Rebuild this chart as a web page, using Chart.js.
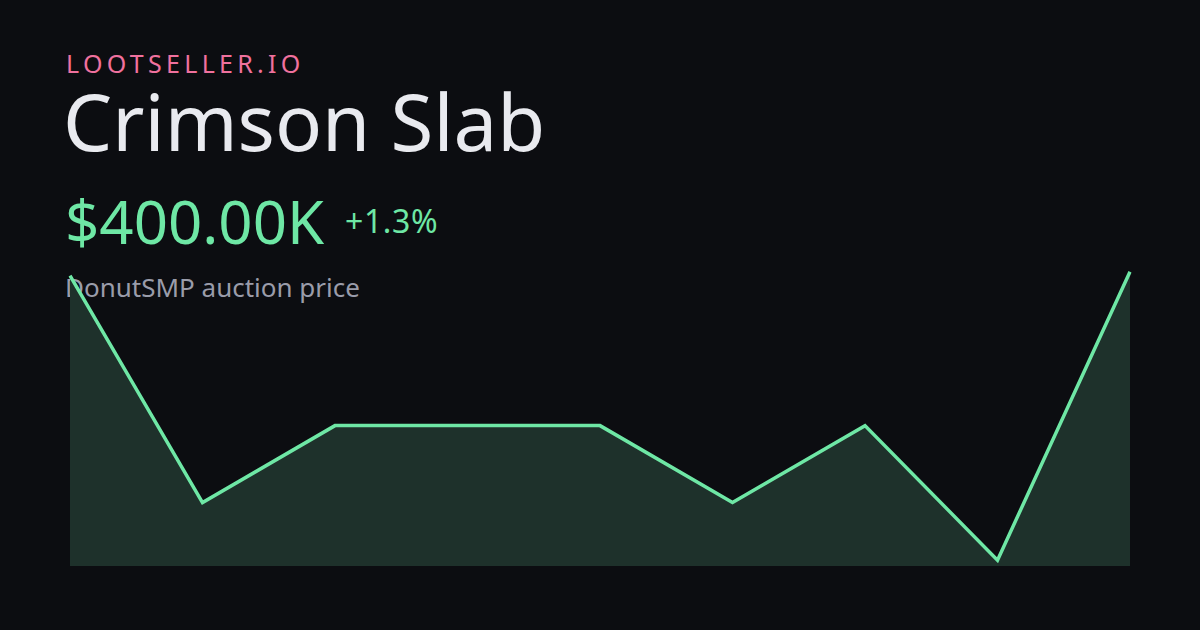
<!DOCTYPE html>
<html lang="en">
<head>
<meta charset="UTF-8">
<title>Crimson Slab - LootSeller</title>
<script src="https://cdn.jsdelivr.net/npm/chart.js"></script>
<style>
  html, body {
    margin: 0;
    padding: 0;
    width: 1200px;
    height: 630px;
    background: #0c0d11;
    overflow: hidden;
    font-family: "Noto Sans", "Open Sans", sans-serif;
  }
  .header {
    position: absolute;
    left: 66px;
    top: 0;
  }
  .brand {
    position: absolute;
    top: 46px;
    left: 0;
    font-size: 25px;
    letter-spacing: 4.3px;
    color: #f0719e;
    white-space: nowrap;
  }
  .title {
    position: absolute;
    top: 68px;
    left: -3px;
    font-size: 78px;
    color: #e9eaef;
    white-space: nowrap;
  }
  .price {
    position: absolute;
    top: 180px;
    left: -1px;
    font-size: 60px;
    color: #6ee7a5;
    white-space: nowrap;
  }
  .change {
    position: absolute;
    top: 199px;
    left: 279px;
    font-size: 32px;
    letter-spacing: 0.6px;
    color: #6ee7a5;
    white-space: nowrap;
  }
  .sub {
    position: absolute;
    top: 269px;
    left: -1px;
    font-size: 26px;
    color: #9a9caa;
    white-space: nowrap;
  }
  #wrap {
    position: absolute;
    left: 0;
    top: 0;
    width: 1200px;
    height: 630px;
  }
</style>
</head>
<body>
  <div class="header">
    <div class="brand">LOOTSELLER.IO</div>
    <div class="title">Crimson Slab</div>
    <div class="price">$400.00K</div>
    <div class="change">+1.3%</div>
    <div class="sub">DonutSMP auction price</div>
  </div>

  <div id="wrap"><canvas id="priceChart"></canvas></div>

  <script>
    // precios en miles de dólares
    const labels = ['1', '2', '3', '4', '5', '6', '7', '8', '9'];
    const prices = [395, 100, 200, 200, 200, 100, 200, 25, 400];

    const ctx = document.getElementById('priceChart').getContext('2d');
    new Chart(ctx, {
      type: 'line',
      data: {
        labels: labels,
        datasets: [{
          data: prices,
          borderColor: '#6ee7a5',
          backgroundColor: '#1e312b',
          borderWidth: 3.5,
          fill: 'start',
          tension: 0,
          pointRadius: 0
        }]
      },
      options: {
        responsive: true,
        maintainAspectRatio: false,
        animation: false,
        layout: {
          padding: { left: 70, right: 70, top: 266, bottom: 64 }
        },
        plugins: {
          legend: { display: false },
          tooltip: { enabled: false }
        },
        scales: {
          x: { display: false, offset: false },
          y: { display: false, min: 17.5, max: 407.5 }
        }
      }
    });
  </script>
</body>
</html>
